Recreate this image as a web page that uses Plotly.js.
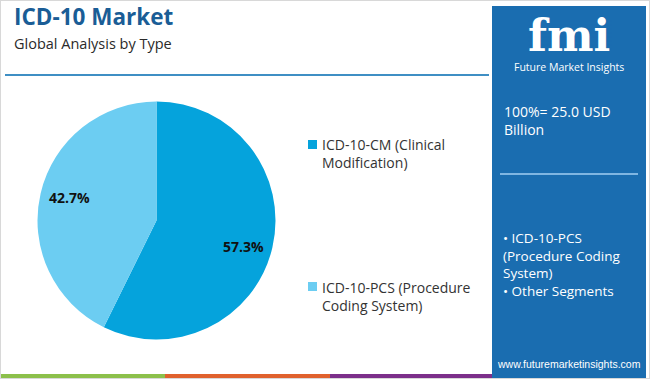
<!DOCTYPE html>
<html><head><meta charset="utf-8">
<script src="https://cdn.plot.ly/plotly-3.0.1.min.js"></script>
<style>html,body{margin:0;padding:0;background:#fff}#chart{width:650px;height:379px}</style>
</head><body><div id="chart"></div>
<script>
const categories = ["ICD-10-CM (Clinical Modification)", "ICD-10-PCS (Procedure Coding System)"];
const legendLabels = ["ICD-10-CM (Clinical<br>Modification)", "ICD-10-PCS (Procedure<br>Coding System)"];
const shares = [57.3, 42.7];
const sliceColors = ["#05a3dc", "#6ccdf2"];
const titleText = "ICD-10 Market";
const subtitleText = "Global Analysis by Type";
const totalText = "100%= 25.0 USD<br>Billion";
const segmentText = "• ICD-10-PCS<br>(Procedure Coding<br>System)<br>• Other Segments";
const siteText = "www.futuremarketinsights.com";

const FONT = "Open Sans, Noto Sans, sans-serif";
const panel = "#1a6db0";
const W = 650, H = 379;
const cx = 156.5, cy = 220.5, R = 119;

const trace = {
  type: "pie",
  values: shares,
  labels: categories,
  sort: false,
  direction: "clockwise",
  rotation: 0,
  marker: {colors: sliceColors, line: {width: 0}},
  textinfo: "none",
  hoverinfo: "none",
  showlegend: false,
  domain: {x: [(cx-R)/W, (cx+R)/W], y: [(H-cy-R)/H, (H-cy+R)/H]}
};

const shapes = [
  {type: "rect", xref: "paper", yref: "paper", x0: 492/W, x1: 646/W, y0: 0, y1: 1-6/H, fillcolor: panel, line: {width: 0}, layer: "below"},
  {type: "line", xref: "paper", yref: "paper", x0: 5/W, x1: 489/W, y0: 1-75/H, y1: 1-75/H, line: {color: "#3f8fc4", width: 2}},
  {type: "line", xref: "paper", yref: "paper", x0: 500/W, x1: 638/W, y0: 1-174/H, y1: 1-174/H, line: {color: "#7fb6e2", width: 2}},
  {type: "rect", xref: "paper", yref: "paper", x0: 0, x1: 165/W, y0: 0, y1: 5/H, fillcolor: "#8cc04b", line: {width: 0}},
  {type: "rect", xref: "paper", yref: "paper", x0: 165/W, x1: 330/W, y0: 0, y1: 5/H, fillcolor: "#e0612d", line: {width: 0}},
  {type: "rect", xref: "paper", yref: "paper", x0: 330/W, x1: 492/W, y0: 0, y1: 5/H, fillcolor: "#7c2f8a", line: {width: 0}},
  {type: "rect", xref: "paper", yref: "paper", x0: 0, x1: 1, y0: 0, y1: 1, line: {color: "#d8d8d8", width: 2}, fillcolor: "rgba(0,0,0,0)"}
];

const annotations = [
  {text: "<b>" + titleText + "</b>", x: 12/W, y: 1-17/H, xanchor: "left", yanchor: "middle", font: {family: FONT, size: 22.5, color: "#1a5d96"}},
  {text: subtitleText, x: 12/W, y: 1-43/H, xanchor: "left", yanchor: "middle", font: {family: FONT, size: 14.5, color: "#2a2a2a"}},
  {text: "<b>fmi</b>", x: 569/W, y: 1-35/H, height: 42, valign: "middle", xanchor: "center", yanchor: "middle", font: {family: "DejaVu Serif, serif", size: 44, color: "#ffffff"}},
  {text: "Future Market Insights", x: 569/W, y: 1-67/H, xanchor: "center", yanchor: "middle", font: {family: FONT, size: 10.5, color: "#ffffff"}},
  {text: totalText, x: 502/W, y: 1-120/H, xanchor: "left", yanchor: "middle", align: "left", font: {family: FONT, size: 14, color: "#ffffff"}},
  {text: segmentText, x: 501/W, y: 1-264/H, xanchor: "left", yanchor: "middle", align: "left", font: {family: FONT, size: 13.5, color: "#ffffff"}},
  {text: siteText, x: 569/W, y: 1-364/H, xanchor: "center", yanchor: "middle", font: {family: "Liberation Sans Narrow, Arial, sans-serif", size: 10.5, color: "#ffffff"}}
];

let cum = 0;
const total = shares.reduce((a, b) => a + b, 0);
shares.forEach((v, i) => {
  const mid = (cum + v / 2) / total;
  cum += v;
  const th = 2 * Math.PI * mid;
  const f = 0.75;
  const px = cx + f * R * Math.sin(th);
  const py = cy - f * R * Math.cos(th) + (i === 0 ? 6 : -3);
  annotations.push({text: "<b>" + v.toFixed(1) + "%</b>", x: px / W, y: 1 - py / H, xanchor: "center", yanchor: "middle", font: {family: FONT, size: 14, color: "#111111"}});
});

const legendY = [154, 296];
legendLabels.forEach((lab, i) => {
  shapes.push({type: "rect", xref: "paper", yref: "paper", x0: 308/W, x1: 317/W, y0: 1-(legendY[i]-5)/H, y1: 1-(legendY[i]-14)/H, fillcolor: sliceColors[i], line: {width: 0}});
  annotations.push({text: lab, x: 320/W, y: 1-legendY[i]/H, xanchor: "left", yanchor: "middle", align: "left", font: {family: FONT, size: 14, color: "#333333"}});
});
annotations.forEach(a => { a.xref = "paper"; a.yref = "paper"; a.showarrow = false; });

for (let k = 0; k < 8; k++) {
  const yy = 21 + k * 4;
  shapes.push({type: "line", xref: "paper", yref: "paper", x0: 528/W, x1: 612/W, y0: 1-yy/H, y1: 1-yy/H, line: {color: panel, width: 1}});
}

Plotly.newPlot("chart", [trace], {
  width: W, height: H,
  margin: {l: 0, r: 0, t: 0, b: 0},
  paper_bgcolor: "#ffffff",
  showlegend: false,
  shapes: shapes,
  annotations: annotations
}, {staticPlot: true});
</script></body></html>
